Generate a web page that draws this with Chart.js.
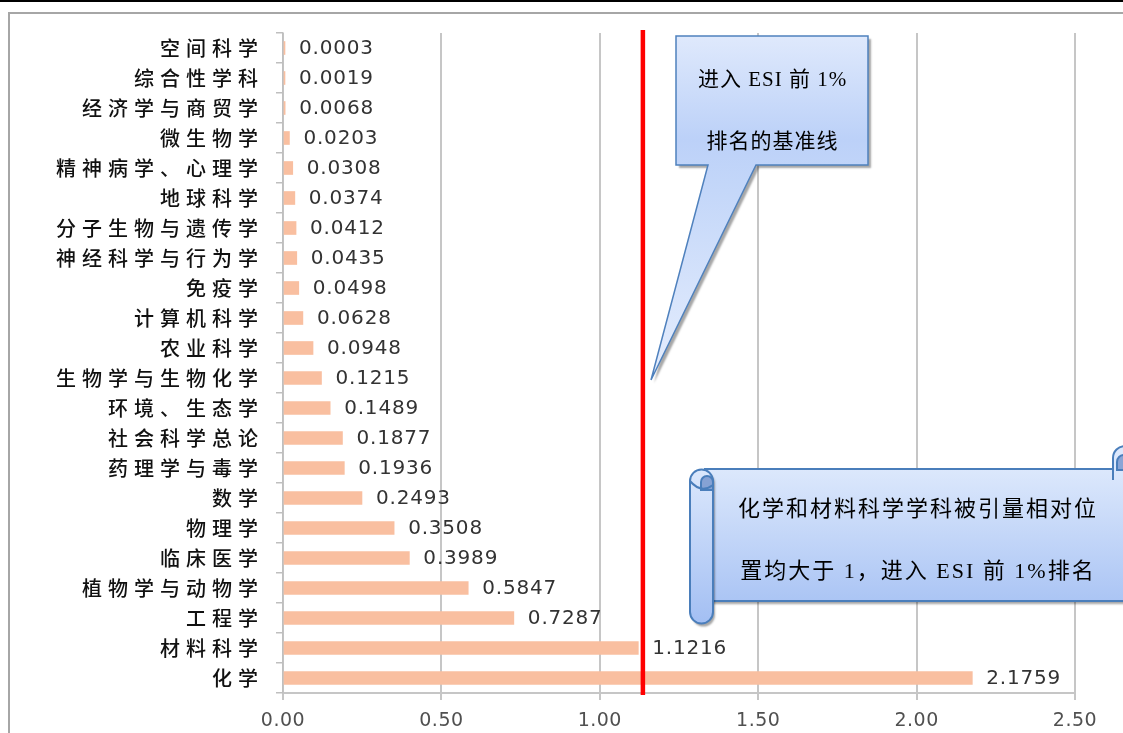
<!DOCTYPE html>
<html>
<head>
<meta charset="utf-8">
<script src="https://cdn.jsdelivr.net/npm/chart.js@4.4.1/dist/chart.umd.min.js"></script>
<style>
  html, body { margin: 0; padding: 0; background: #fff; }
  canvas { display: block; }
</style>
</head>
<body>
<canvas id="esiChart" width="1123" height="733"></canvas>
<script>
// subjects, top to bottom
var subjects = ['空间科学', '综合性学科', '经济学与商贸学', '微生物学', '精神病学、心理学', '地球科学',
  '分子生物与遗传学', '神经科学与行为学', '免疫学', '计算机科学', '农业科学', '生物学与生物化学',
  '环境、生态学', '社会科学总论', '药理学与毒学', '数学', '物理学', '临床医学', '植物学与动物学',
  '工程学', '材料科学', '化学'];
var citeRatio = [0.0003, 0.0019, 0.0068, 0.0203, 0.0308, 0.0374, 0.0412, 0.0435, 0.0498, 0.0628,
  0.0948, 0.1215, 0.1489, 0.1877, 0.1936, 0.2493, 0.3508, 0.3989, 0.5847, 0.7287, 1.1216, 2.1759];
var valueLabels = ['0.0003', '0.0019', '0.0068', '0.0203', '0.0308', '0.0374', '0.0412', '0.0435',
  '0.0498', '0.0628', '0.0948', '0.1215', '0.1489', '0.1877', '0.1936', '0.2493', '0.3508', '0.3989',
  '0.5847', '0.7287', '1.1216', '2.1759'];
var esiBaseline = 1.136;
var calloutLines = ['进入 ESI 前 1%', '排名的基准线'];
var scrollLines = ['化学和材料科学学科被引量相对位', '置均大于 1，进入 ESI 前 1%排名'];

var serifFont = '"Liberation Serif", "Noto Sans CJK SC", serif';

// page frame lines
var framePlugin = {
  id: 'frame',
  beforeDraw: function (chart) {
    var c = chart.ctx;
    c.save();
    c.fillStyle = '#000';
    c.fillRect(0, 0, chart.width, 2);
    c.strokeStyle = '#a6a6a6';
    c.lineWidth = 2;
    c.beginPath();
    c.moveTo(chart.width, 13);
    c.lineTo(9, 13);
    c.lineTo(9, chart.height);
    c.stroke();
    c.restore();
    c.letterSpacing = '0.5px';
  }
};

// wider spacing for the chinese category labels
var spacingPlugin = {
  id: 'spacing',
  afterUpdate: function (chart) {
    var s = chart.scales.y;
    if (s && !s._spaced) {
      var orig = s.drawLabels;
      s.drawLabels = function (area) {
        var c = this.ctx;
        c.save();
        c.letterSpacing = '6px';
        orig.call(this, area);
        c.restore();
      };
      s._spaced = true;
    }
  }
};

// numbers at bar ends
var valuePlugin = {
  id: 'values',
  afterDatasetsDraw: function (chart) {
    var c = chart.ctx;
    var meta = chart.getDatasetMeta(0);
    c.save();
    c.letterSpacing = '0.8px';
    c.font = '20px "DejaVu Sans", sans-serif';
    c.fillStyle = '#333';
    c.textAlign = 'left';
    c.textBaseline = 'middle';
    meta.data.forEach(function (bar, i) {
      c.fillText(valueLabels[i], bar.x + 14, bar.y + 1);
    });
    c.restore();
  }
};

function textLines(c, lines, cx, ys, size, spacing) {
  c.save();
  c.letterSpacing = spacing + 'px';
  c.font = size + 'px ' + serifFont;
  c.fillStyle = '#000';
  c.textAlign = 'center';
  c.textBaseline = 'middle';
  lines.forEach(function (t, i) { c.fillText(t, cx + spacing / 2, ys[i]); });
  c.restore();
}

// red baseline and the two callouts
var notePlugin = {
  id: 'notes',
  afterDatasetsDraw: function (chart) {
    var c = chart.ctx;
    var area = chart.chartArea;
    var bx = chart.scales.x.getPixelForValue(esiBaseline);
    c.save();
    c.strokeStyle = '#ff0000';
    c.lineWidth = 4.5;
    c.beginPath();
    c.moveTo(bx, area.top - 3);
    c.lineTo(bx, area.bottom + 2);
    c.stroke();

    // speech callout
    var g = c.createLinearGradient(0, 36, 0, 380);
    g.addColorStop(0, '#dfe9fc');
    g.addColorStop(0.3, '#bcd1f8');
    g.addColorStop(0.45, '#c4d7f9');
    g.addColorStop(1, '#e6eefd');
    c.beginPath();
    c.moveTo(676, 36);
    c.lineTo(868, 36);
    c.lineTo(868, 165);
    c.lineTo(756, 165);
    c.lineTo(651, 380);
    c.lineTo(708, 165);
    c.lineTo(676, 165);
    c.closePath();
    c.shadowColor = 'rgba(0,0,0,0.35)';
    c.shadowOffsetX = 3;
    c.shadowOffsetY = 3;
    c.shadowBlur = 2;
    c.fillStyle = g;
    c.fill();
    c.shadowColor = 'transparent';
    c.strokeStyle = '#4f81bd';
    c.lineWidth = 1.5;
    c.stroke();
    textLines(c, calloutLines, 772, [80, 142], 21, 1);

    // scroll banner
    var g2 = c.createLinearGradient(0, 469, 0, 623);
    g2.addColorStop(0, '#dce8fc');
    g2.addColorStop(1, '#a3bff3');
    c.shadowColor = 'rgba(0,0,0,0.35)';
    c.shadowOffsetX = 2;
    c.shadowOffsetY = 3;
    c.shadowBlur = 2;
    c.fillStyle = g2;
    c.strokeStyle = '#4a7ebb';
    c.lineWidth = 2;
    c.beginPath();
    c.rect(705, 469, 440, 132);
    c.fill();
    c.shadowColor = 'transparent';
    c.stroke();
    // right upper roll
    c.beginPath();
    c.moveTo(1113, 480);
    c.lineTo(1113, 458);
    c.arc(1125, 458, 12, Math.PI, Math.PI * 2);
    c.lineTo(1137, 480);
    c.fill();
    c.stroke();
    c.fillStyle = '#8aa5d6';
    c.beginPath();
    c.arc(1124, 462, 7, Math.PI, Math.PI * 2);
    c.lineTo(1131, 470);
    c.lineTo(1117, 470);
    c.closePath();
    c.fill();
    c.stroke();
    // left roll
    c.shadowColor = 'rgba(0,0,0,0.35)';
    c.fillStyle = g2;
    c.beginPath();
    c.moveTo(690, 481);
    c.arc(701.5, 481, 11.5, Math.PI, Math.PI * 2);
    c.lineTo(713, 612);
    c.arc(701.5, 612, 11.5, 0, Math.PI);
    c.closePath();
    c.fill();
    c.shadowColor = 'transparent';
    c.stroke();
    c.fillStyle = '#86a2d4';
    c.beginPath();
    c.arc(707, 482, 6, Math.PI, Math.PI * 2);
    c.lineTo(713, 490);
    c.lineTo(701, 490);
    c.closePath();
    c.fill();
    c.stroke();
    c.beginPath();
    c.moveTo(690, 481);
    c.quadraticCurveTo(701, 494, 713, 485);
    c.stroke();
    textLines(c, scrollLines, 917, [510, 572], 22, 2);
    c.restore();
  }
};

var ctx = document.getElementById('esiChart').getContext('2d');
var esiChart = new Chart(ctx, {
  type: 'bar',
  data: {
    labels: subjects,
    datasets: [{
      label: '被引量相对位置',
      data: citeRatio,
      backgroundColor: '#f9bfa0',
      barThickness: 13,
      minBarLength: 2
    }]
  },
  options: {
    indexAxis: 'y',
    responsive: false,
    animation: false,
    devicePixelRatio: 1,
    layout: { padding: { top: 33, right: 48, left: 0, bottom: 0 } },
    plugins: {
      legend: { display: false },
      tooltip: { enabled: false }
    },
    scales: {
      x: {
        min: 0,
        max: 2.5,
        afterFit: function (s) { s.height = 40; },
        ticks: {
          stepSize: 0.5,
          padding: 10,
          color: '#505050',
          font: { family: '"DejaVu Sans", sans-serif', size: 19 },
          callback: function (v) { return Number(v).toFixed(2); }
        },
        grid: { color: '#c6c6c6', lineWidth: 2, tickLength: 7 },
        border: { color: '#c6c6c6', width: 2 }
      },
      y: {
        afterFit: function (s) { s.width = 283; },
        ticks: {
          padding: 12,
          color: '#111',
          font: { family: '"Noto Sans CJK SC", sans-serif', size: 20, weight: '500' }
        },
        grid: { drawOnChartArea: false, color: '#bfbfbf', lineWidth: 1.5, tickLength: 7 },
        border: { color: '#bfbfbf', width: 1.5 }
      }
    }
  },
  plugins: [framePlugin, spacingPlugin, valuePlugin, notePlugin]
});
</script>
</body>
</html>
